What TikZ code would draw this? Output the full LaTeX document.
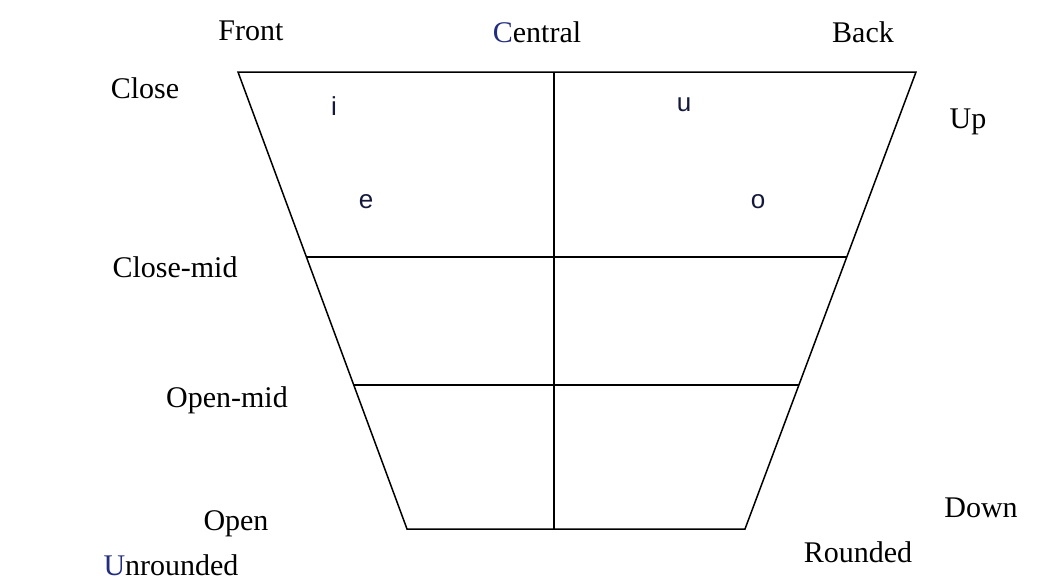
\documentclass[tikz,border=0pt]{standalone}
\usepackage{fontspec}
\usetikzlibrary{calc}
\setmainfont{Liberation Serif}
\newfontfamily\vowelfont{Liberation Sans}
\definecolor{capblue}{RGB}{35,45,125}
\definecolor{vowelcol}{RGB}{20,25,60}
\begin{document}
\begin{tikzpicture}[x=1pt,y=-1pt,
  lbl/.style={font=\fontsize{30}{34}\selectfont, inner sep=0pt, anchor=base},
  vow/.style={font=\vowelfont\fontsize{26}{30}\selectfont, text=vowelcol, inner sep=0pt, anchor=base},
  grid/.style={line width=1.5pt, black}]
\useasboundingbox (0,0) rectangle (1050,581);
% corners
\coordinate (tl) at (238,72);
\coordinate (tr) at (916,72);
\coordinate (br) at (745,529);
\coordinate (bl) at (407,529);
\coordinate (tc) at (554,72);
\coordinate (bc) at (554,529);
\coordinate (cml) at ($(tl)!0.405!(bl)$);
\coordinate (cmr) at ($(tr)!0.405!(br)$);
\coordinate (oml) at ($(tl)!0.685!(bl)$);
\coordinate (omr) at ($(tr)!0.685!(br)$);
\draw[grid, line join=miter] (tl) -- (tr) -- (br) -- (bl) -- cycle;
\draw[grid] (tc) -- (bc);
\draw[grid] (cml) -- (cmr);
\draw[grid] (oml) -- (omr);
% labels
\node[lbl] (front) at (251,40) {Front};
\node[lbl] (central) at (537,42) {\textcolor{capblue}{C}entral};
\node[lbl] (back) at (863,42) {Back};
\node[lbl] (close) at (145,98) {Close};
\node[lbl] (up) at (968,128) {Up};
\node[lbl] (closemid) at (175,277) {Close-mid};
\node[lbl] (openmid) at (227,407) {Open-mid};
\node[lbl] (open) at (236,530) {Open};
\node[lbl] (unr) at (171,575) {\textcolor{capblue}{U}nrounded};
\node[lbl] (down) at (981,517) {Down};
\node[lbl] (rnd) at (858,562) {Rounded};
% vowels
\node[vow] (i) at (334,115) {i};
\node[vow] (u) at (684,111) {u};
\node[vow] (e) at (366,208) {e};
\node[vow] (o) at (758,208) {o};
\end{tikzpicture}
\end{document}
